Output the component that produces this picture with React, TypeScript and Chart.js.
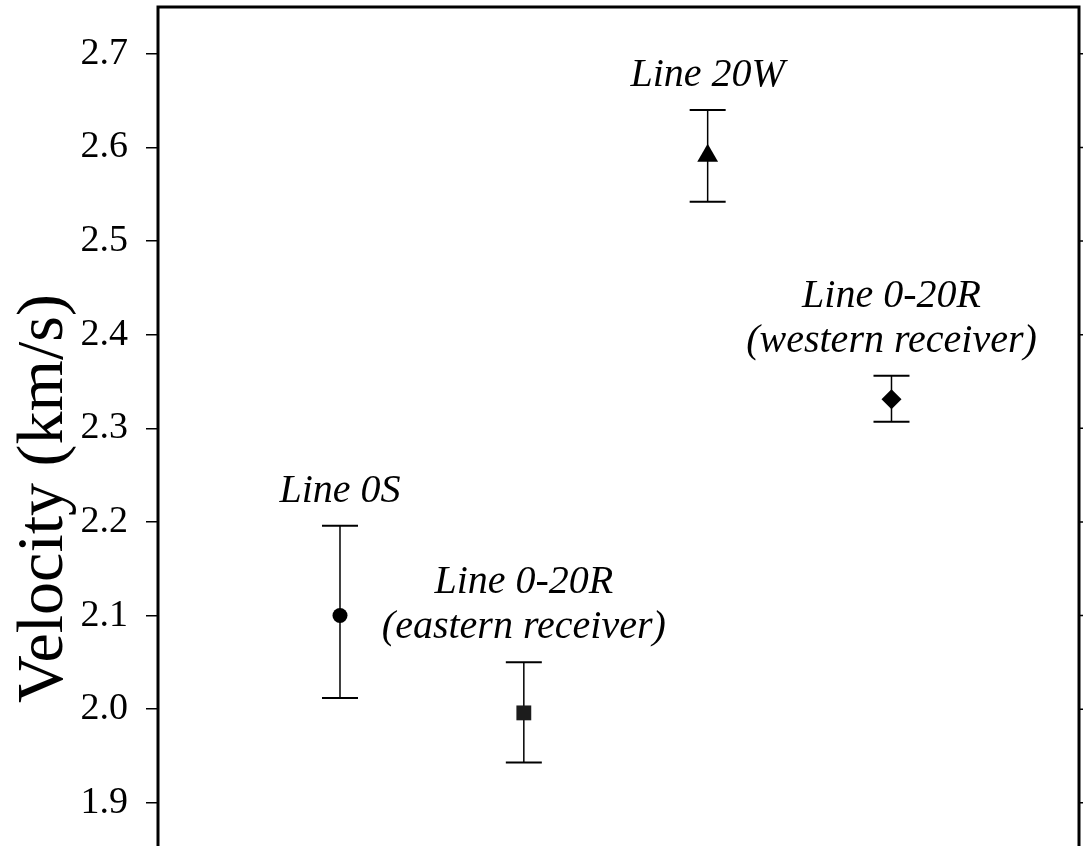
import React, { useEffect, useRef } from "react";
import { Chart, registerables } from "chart.js";

Chart.register(...registerables);

// Survey lines (plotted at evenly spaced positions along x)
const positions = [1, 2, 3, 4];
const velocity = [2.1, 1.996, 2.591, 2.331];
const upperBound = [2.196, 2.05, 2.64, 2.356];
const lowerBound = [2.012, 1.943, 2.542, 2.307];
const lineLabels: string[][] = [
  ["Line 0S"],
  ["Line 0-20R", "(eastern receiver)"],
  ["Line 20W"],
  ["Line 0-20R", "(western receiver)"],
];
const markerStyles = ["circle", "rect", "triangle", "rectRot"];
const markerRadii = [7.5, 10.5, 12, 10];
const markerColors = ["#000000", "#1c1c1c", "#000000", "#000000"];

const SERIF = "'Liberation Serif', 'Times New Roman', serif";

// Black box around the plotting area, with outward ticks on the right side
const framePlugin = {
  id: "frame",
  afterDraw(chart: any) {
    const { ctx, chartArea } = chart;
    const ys = chart.scales.y;
    ctx.save();
    ctx.strokeStyle = "#000";
    ctx.lineWidth = 1.5;
    ctx.beginPath();
    ys.ticks.forEach((t: any) => {
      const y = ys.getPixelForValue(t.value);
      ctx.moveTo(chartArea.right, y);
      ctx.lineTo(chartArea.right + 12, y);
    });
    ctx.stroke();
    ctx.lineWidth = 3;
    ctx.strokeRect(
      chartArea.left,
      chartArea.top,
      chartArea.right - chartArea.left,
      chartArea.bottom - chartArea.top
    );
    ctx.restore();
  },
};

// Vertical uncertainty bars with caps, drawn beneath the markers
const errorBarPlugin = {
  id: "errorBars",
  beforeDatasetsDraw(chart: any) {
    const { ctx } = chart;
    const xs = chart.scales.x;
    const ys = chart.scales.y;
    ctx.save();
    ctx.strokeStyle = "#000";
    positions.forEach((p, i) => {
      const x = xs.getPixelForValue(p);
      const yHi = ys.getPixelForValue(upperBound[i]);
      const yLo = ys.getPixelForValue(lowerBound[i]);
      ctx.lineWidth = 1.5;
      ctx.beginPath();
      ctx.moveTo(x, yHi);
      ctx.lineTo(x, yLo);
      ctx.stroke();
      ctx.lineWidth = 2;
      ctx.beginPath();
      ctx.moveTo(x - 18, yHi);
      ctx.lineTo(x + 18, yHi);
      ctx.moveTo(x - 18, yLo);
      ctx.lineTo(x + 18, yLo);
      ctx.stroke();
    });
    ctx.restore();
  },
};

// Italic captions stacked above each bar's upper cap
const captionPlugin = {
  id: "captions",
  afterDatasetsDraw(chart: any) {
    const { ctx } = chart;
    const xs = chart.scales.x;
    const ys = chart.scales.y;
    ctx.save();
    ctx.fillStyle = "#000";
    ctx.font = `italic 40px ${SERIF}`;
    ctx.textAlign = "center";
    ctx.textBaseline = "alphabetic";
    positions.forEach((p, i) => {
      const x = xs.getPixelForValue(p);
      const base = ys.getPixelForValue(upperBound[i]) - 24;
      const lines = lineLabels[i];
      lines.forEach((line, j) => {
        const y = base - (lines.length - 1 - j) * 45;
        ctx.fillText(line, x, y);
      });
    });
    ctx.restore();
  },
};

export default function App() {
  const canvasRef = useRef<HTMLCanvasElement | null>(null);

  useEffect(() => {
    if (!canvasRef.current) return;
    const chart = new Chart(canvasRef.current, {
      type: "scatter",
      data: {
        datasets: [
          {
            data: positions.map((p, i) => ({ x: p, y: velocity[i] })),
            pointStyle: markerStyles as any,
            pointRadius: markerRadii,
            pointBackgroundColor: markerColors,
            pointBorderColor: markerColors,
            pointBorderWidth: 0,
            showLine: false,
          },
        ],
      },
      options: {
        animation: false,
        responsive: false,
        devicePixelRatio: 1,
        layout: {
          autoPadding: false,
          padding: { top: 7, bottom: 10, left: 0, right: 4 },
        },
        plugins: {
          legend: { display: false },
          tooltip: { enabled: false },
        },
        scales: {
          x: {
            type: "linear",
            min: 0.01,
            max: 5.02,
            display: false,
          },
          y: {
            type: "linear",
            position: "left",
            min: 1.7,
            max: 2.75,
            border: { display: false },
            grid: {
              drawOnChartArea: false,
              drawTicks: true,
              tickLength: 12,
              lineWidth: 1.5,
              color: "#000",
            },
            ticks: {
              stepSize: 0.1,
              includeBounds: false,
              padding: 18,
              color: "#000",
              font: { family: SERIF, size: 38 },
              callback: (v: any) => Number(v).toFixed(1),
            },
            title: {
              display: true,
              text: "Velocity (km/s)",
              color: "#000",
              font: { family: SERIF, size: 66, lineHeight: 1 },
              padding: { top: 12, bottom: 0 },
            },
            afterFit: (scale: any) => {
              scale.width = 158;
              scale.paddingTop = 0;
              scale.paddingBottom = 0;
            },
          },
        },
      },
      plugins: [errorBarPlugin, captionPlugin, framePlugin],
    });
    return () => chart.destroy();
  }, []);

  return (
    <div style={{ position: "fixed", left: 0, top: 0, width: 1083, height: 1000, background: "#fff" }}>
      <canvas ref={canvasRef} width={1083} height={1000} style={{ display: "block" }} />
    </div>
  );
}
